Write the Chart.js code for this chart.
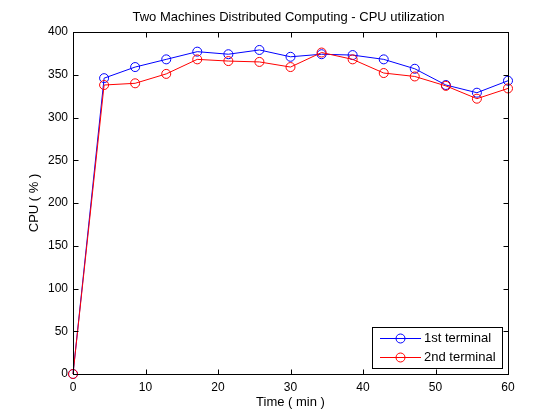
<!DOCTYPE html>
<html>
<head>
<meta charset="utf-8">
<script src="https://cdn.jsdelivr.net/npm/chart.js@4/dist/chart.umd.min.js"></script>
<style>
  body { margin: 0; background: #fff; }
  #cpu { display: block; }
</style>
</head>
<body>
<canvas id="cpu" width="560" height="420"></canvas>
<script>
const tiempos = [0, 4.29, 8.57, 12.86, 17.14, 21.43, 25.71, 30, 34.29, 38.57, 42.86, 47.14, 51.43, 55.71, 60];
const terminal1 = [0, 346, 359, 368, 377, 374, 379, 371, 374, 373, 368, 357, 338, 329, 343];
const terminal2 = [0, 338, 340, 351, 368, 366, 365, 359, 376, 368, 352, 348, 337, 322, 334];
const etiquetas = ["1st terminal", "2nd terminal"];
const colores = ["#0000ff", "#ff0000"];
const titulo = "Two Machines Distributed Computing - CPU utilization";

const familia = "Liberation Sans, Arial, sans-serif";
const fuenteTicks = { family: familia, size: 12 };
const fuenteTexto = { family: familia, size: 13 };

function puntos(xs, ys) {
    return xs.map((x, i) => ({ x: x, y: ys[i] }));
}

// caja tipo matlab, ticks hacia adentro, titulo y leyenda
const cajaMatlab = {
    id: "cajaMatlab",
    afterDraw(chart) {
        const ctx = chart.ctx;
        const a = chart.chartArea;
        const L = Math.round(a.left) + 0.5, R = Math.round(a.right) + 0.5;
        const T = Math.round(a.top) + 0.5, B = Math.round(a.bottom) + 0.5;
        ctx.save();
        ctx.strokeStyle = "#000";
        ctx.lineWidth = 1;
        ctx.strokeRect(L, T, R - L, B - T);
        ctx.beginPath();
        chart.scales.x.ticks.forEach(t => {
            const px = Math.round(chart.scales.x.getPixelForValue(t.value)) + 0.5;
            ctx.moveTo(px, B); ctx.lineTo(px, B - 5);
            ctx.moveTo(px, T); ctx.lineTo(px, T + 5);
        });
        chart.scales.y.ticks.forEach(t => {
            const py = Math.round(chart.scales.y.getPixelForValue(t.value)) + 0.5;
            ctx.moveTo(L, py); ctx.lineTo(L + 5, py);
            ctx.moveTo(R, py); ctx.lineTo(R - 5, py);
        });
        ctx.stroke();

        ctx.fillStyle = "#000";
        ctx.font = "13px " + familia;
        ctx.textAlign = "center";
        ctx.textBaseline = "middle";
        ctx.fillText(titulo, (a.left + a.right) / 2 - 2, 17);

        // leyenda
        const lx = 372.5, ly = 327.5, lw = 130, lh = 41;
        ctx.fillStyle = "#fff";
        ctx.fillRect(lx, ly, lw, lh);
        ctx.strokeRect(lx, ly, lw, lh);
        etiquetas.forEach((txt, i) => {
            const yy = ly + 11 + i * 19;
            ctx.strokeStyle = colores[i];
            ctx.beginPath();
            ctx.moveTo(380, yy); ctx.lineTo(421, yy);
            ctx.stroke();
            ctx.beginPath();
            ctx.arc(400.5, yy, 4.5, 0, Math.PI * 2);
            ctx.stroke();
            ctx.fillStyle = "#000";
            ctx.textAlign = "left";
            ctx.fillText(txt, 424, yy);
        });
        ctx.restore();
    }
};

new Chart("cpu", {
    type: "line",
    data: {
        datasets: [{
            label: etiquetas[0],
            data: puntos(tiempos, terminal1),
            borderColor: colores[0],
            borderWidth: 1,
            pointStyle: "circle",
            pointRadius: 4.5,
            pointBorderColor: colores[0],
            pointBackgroundColor: "rgba(0,0,0,0)",
            pointBorderWidth: 1,
            tension: 0,
            clip: false,
            order: 1
        }, {
            label: etiquetas[1],
            data: puntos(tiempos, terminal2),
            borderColor: colores[1],
            borderWidth: 1,
            pointStyle: "circle",
            pointRadius: 4.5,
            pointBorderColor: colores[1],
            pointBackgroundColor: "rgba(0,0,0,0)",
            pointBorderWidth: 1,
            tension: 0,
            clip: false,
            order: 0
        }]
    },
    options: {
        responsive: false,
        animation: false,
        devicePixelRatio: 1,
        layout: { padding: { left: 0, top: 32, right: 52, bottom: 0 } },
        plugins: {
            legend: { display: false },
            title: { display: false },
            tooltip: { enabled: false }
        },
        scales: {
            x: {
                type: "linear",
                min: 0,
                max: 60,
                ticks: { stepSize: 10, padding: 6, color: "#000", font: fuenteTicks, maxRotation: 0 },
                grid: { display: false, drawTicks: false },
                border: { display: false },
                title: { display: true, text: "Time ( min )", color: "#000", font: fuenteTexto, padding: { top: 0, bottom: 10 } },
                afterFit(s) { s.height = 46; }
            },
            y: {
                min: 0,
                max: 400,
                ticks: { stepSize: 50, padding: 5, color: "#000", font: fuenteTicks },
                grid: { display: false, drawTicks: false },
                border: { display: false },
                title: { display: true, text: "CPU ( % )", color: "#000", font: fuenteTexto, padding: { top: 27, bottom: 0 } },
                afterFit(s) { s.width = 73; }
            }
        }
    },
    plugins: [cajaMatlab]
});
</script>
</body>
</html>
